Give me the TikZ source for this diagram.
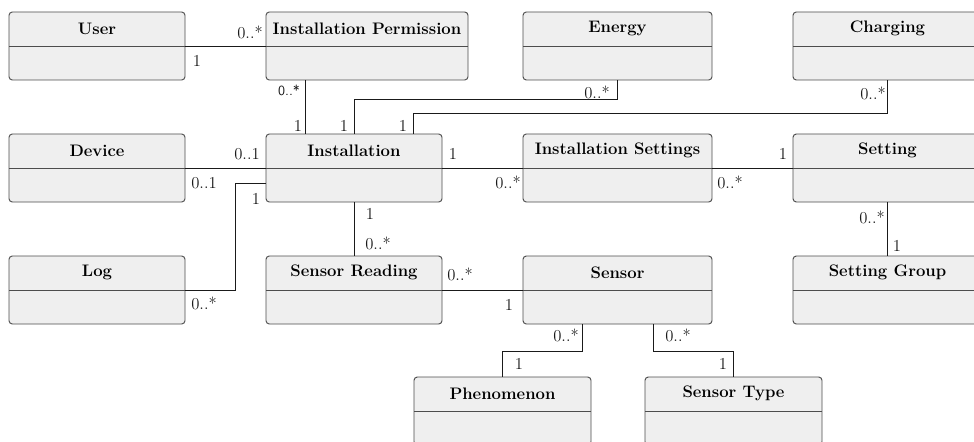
\documentclass[tikz,border=0pt]{standalone}
\usepackage{fontspec}
\usetikzlibrary{calc}
\definecolor{BoxFill}{HTML}{EFEFEF}
\definecolor{BoxLine}{HTML}{4D4D4D}
\definecolor{WireBlack}{HTML}{1A1A1A}
\newcommand{\diagfont}{\fontsize{12.5}{15}\selectfont}
% class box: name, centre (px), width (px), title
\newcommand{\umlclass}[4]{\node[classbox,minimum width=#3*0.75pt] (#1) at (#2){}; \path (#1.north)--(#1.center) node[midway,classtitle] (#1-t){#4};}
\begin{document}
\begin{tikzpicture}[x=0.75pt,y=-0.75pt,
  classbox/.style={draw=BoxLine,fill=BoxFill,line width=0.7pt,rounded corners=2.5pt,minimum height=51pt,inner sep=0pt,
    path picture={\draw[BoxLine,line width=0.7pt] (path picture bounding box.west)--(path picture bounding box.east);}},
  classtitle/.style={font=\diagfont\bfseries,inner sep=1pt},
  wire/.style={WireBlack,line width=0.65pt},
  mult/.style={font=\diagfont,inner sep=0pt}]
\useasboundingbox (0,0) rectangle (974,442); \clip (0,0) rectangle (974,442);
\fill[white] (0,0) rectangle (974,442);
% classes
\umlclass{user}{97,46}{176}{User}
\umlclass{ip}{367,46}{202}{Installation Permission}
\umlclass{energy}{617.5,46}{189}{Energy}
\umlclass{charging}{887.5,46}{189}{Charging}
\umlclass{device}{97,168}{176}{Device}
\umlclass{inst}{354,168}{176}{Installation}
\umlclass{iset}{617.5,168}{189}{Installation Settings}
\umlclass{setting}{887.5,168}{189}{Setting}
\umlclass{log}{97,290}{176}{Log}
\umlclass{sread}{354,290}{176}{Sensor Reading}
\umlclass{sensor}{617.5,290}{189}{Sensor}
\umlclass{sgroup}{887.5,290}{189}{Setting Group}
\umlclass{phen}{502.5,411}{177}{Phenomenon}
\umlclass{stype}{733.5,411}{177}{Sensor Type}
% associations
\draw[wire] (user.east)--(ip.west) node[mult] (l1) at (197,61){1} node[mult] (l2) at (250,32){0..*};
\draw[wire] ($(ip.south west)+(40,0)$)--($(inst.north west)+(40,0)$) node[mult,font=\sffamily\fontsize{10.5}{12}\selectfont] (l3) at (289,90){0..*} node[mult] (l4) at (298,126){1};
\draw[wire] (energy.south)--++(0,19)-|(inst.north) node[mult] (l5) at (597,92){0..*} node[mult] (l6) at (344,126){1};
\draw[wire] (charging.south)--++(0,33)-|($(inst.north)+(59,0)$) node[mult] (l7) at (873,93){0..*} node[mult] (l8) at (403,126){1};
\draw[wire] (device.east)--(inst.west) node[mult] (l9) at (247,154){0..1} node[mult] (l10) at (204,183){0..1};
\draw[wire] (log.east)--++(50,0)|-($(inst.west)+(0,15)$) node[mult] (l11) at (204,303){0..*} node[mult] (l12) at (256,199){1};
\draw[wire] (inst.east)--(iset.west) node[mult] (l13) at (453,154){1} node[mult] (l14) at (508,182){0..*};
\draw[wire] (iset.east)--(setting.west) node[mult] (l15) at (730,182){0..*} node[mult] (l16) at (783,154){1};
\draw[wire] (setting.south)--(sgroup.north) node[mult] (l17) at (872,217){0..*} node[mult] (l18) at (897,246){1};
\draw[wire] (inst.south)--(sread.north) node[mult] (l19) at (370,214){1} node[mult] (l20) at (378,243){0..*};
\draw[wire] (sread.east)--(sensor.west) node[mult] (l21) at (460,274){0..*} node[mult] (l22) at (509,305){1};
\draw[wire] ($(sensor.south)+(-35,0)$)--++(0,27)-|(phen.north) node[mult] (l23) at (566,335){0..*} node[mult] (l24) at (519,364){1};
\draw[wire] ($(sensor.south)+(36,0)$)--++(0,27)-|(stype.north) node[mult] (l25) at (678,335){0..*} node[mult] (l26) at (723,364){1};
\end{tikzpicture}
\end{document}
